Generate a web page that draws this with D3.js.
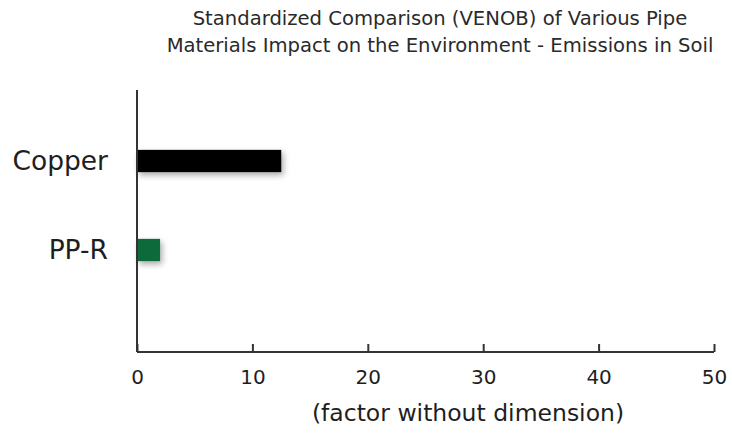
<!DOCTYPE html>
<html>
<head>
<meta charset="utf-8">
<script src="https://cdn.jsdelivr.net/npm/d3@7"></script>
<style>
  html, body { margin: 0; padding: 0; background: #fff; }
  svg { display: block; }
</style>
</head>
<body>
<svg id="chart" width="732" height="436"></svg>
<script>
// Pipe materials and their standardized soil-emission factors
const materials = ["Copper", "PP-R"];
const emissionFactors = [12.5, 2.0];
const barColors = ["#050505", "#0b6b3a"];
const xTicks = [0, 10, 20, 30, 40, 50];
const titleLines = [
  "Standardized Comparison (VENOB) of Various Pipe",
  "Materials Impact on the Environment - Emissions in Soil"
];
const xAxisLabel = "(factor without dimension)";

const svg = d3.select("#chart");
const font = "'DejaVu Sans', Verdana, sans-serif";

const x = d3.scaleLinear().domain([0, 50]).range([137, 714]);
const y = d3.scaleBand().domain(materials)
  .range([116.5, 294.5]).paddingInner(0.75).paddingOuter(0.375);

// soft drop shadow under the bars
const defs = svg.append("defs");
const f = defs.append("filter").attr("id", "shadow")
  .attr("x", "-20%").attr("y", "-60%").attr("width", "160%").attr("height", "260%");
f.append("feGaussianBlur").attr("in", "SourceAlpha").attr("stdDeviation", 3).attr("result", "b");
f.append("feOffset").attr("in", "b").attr("dx", 2).attr("dy", 3).attr("result", "o");
f.append("feComponentTransfer").attr("in", "o").attr("result", "s")
  .append("feFuncA").attr("type", "linear").attr("slope", 0.35);
const m = f.append("feMerge");
m.append("feMergeNode").attr("in", "s");
m.append("feMergeNode").attr("in", "SourceGraphic");

// title
svg.append("g").selectAll("text").data(titleLines).join("text")
  .attr("x", 440).attr("y", (d, i) => 25 + i * 27)
  .attr("text-anchor", "middle")
  .attr("font-family", font).attr("font-size", 19.6)
  .attr("fill", "#2a2a2a")
  .text(d => d);

// bars
svg.append("g").selectAll("rect").data(materials).join("rect")
  .attr("x", x(0))
  .attr("y", d => y(d))
  .attr("width", (d, i) => x(emissionFactors[i]) - x(0))
  .attr("height", y.bandwidth())
  .attr("fill", (d, i) => barColors[i])
  .attr("filter", "url(#shadow)");

// y axis line and category labels
svg.append("line")
  .attr("x1", x(0)).attr("x2", x(0)).attr("y1", 90).attr("y2", 352)
  .attr("stroke", "#333").attr("stroke-width", 2);
svg.append("g").selectAll("text").data(materials).join("text")
  .attr("x", 108).attr("y", d => y(d) + y.bandwidth() / 2)
  .attr("dy", "0.35em")
  .attr("text-anchor", "end")
  .attr("font-family", font).attr("font-size", 26.5)
  .attr("fill", "#1e1e1e")
  .text(d => d);

// x axis with inward ticks
const xAxis = d3.axisBottom(x).tickValues(xTicks).tickSize(-8).tickPadding(18);
const gx = svg.append("g").attr("transform", "translate(0,352)").call(xAxis);
gx.select(".domain").attr("stroke", "#333").attr("stroke-width", 2).attr("d", `M${x(0)},0H${x(50)}`);
gx.selectAll(".tick line").attr("stroke", "#333").attr("stroke-width", 2);
gx.selectAll(".tick text")
  .attr("font-family", font).attr("font-size", 20).attr("fill", "#1e1e1e");

svg.append("text")
  .attr("x", 468).attr("y", 421)
  .attr("text-anchor", "middle")
  .attr("font-family", font).attr("font-size", 23.5)
  .attr("fill", "#1e1e1e")
  .text(xAxisLabel);
</script>
</body>
</html>
